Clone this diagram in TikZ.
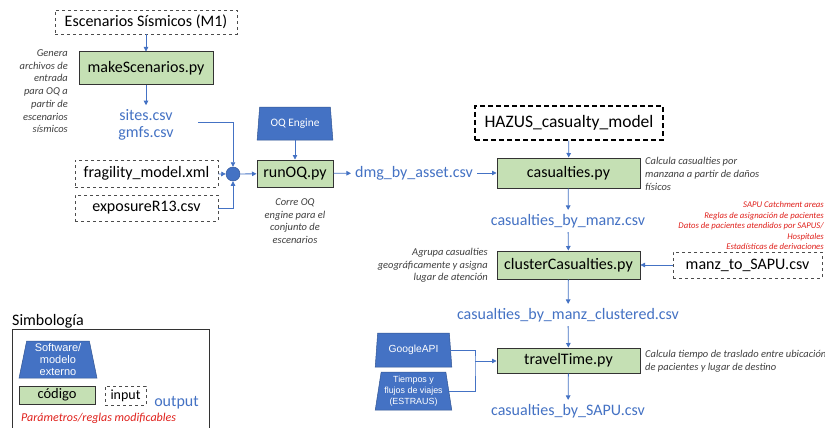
\documentclass[tikz,border=0pt]{standalone}
\usepackage{fontspec}
\setmainfont{Carlito}
\newfontfamily\arialf{Liberation Sans}
\usetikzlibrary{arrows.meta,shapes.geometric}
\definecolor{obl}{HTML}{4472C4}
\definecolor{codeg}{HTML}{C5E0B4}
\definecolor{notec}{HTML}{404040}
\definecolor{redc}{HTML}{E0201B}
\begin{document}
\begin{tikzpicture}[x=1pt,y=-1pt,
  code/.style={draw=black!80, line width=1pt, fill=codeg, inner sep=0pt, font=\fontsize{16}{18}\selectfont},
  inbox/.style={draw=black!70, dashed, line width=0.6pt, inner sep=0pt, font=\fontsize{16}{18}\selectfont},
  soft/.style={trapezium, trapezium left angle=80, trapezium right angle=80, trapezium stretches=true, fill=obl, draw=obl!75!black, line width=0.5pt, text=white, inner sep=0pt, align=center},
  outt/.style={text=obl, font=\fontsize{16}{18}\selectfont, inner sep=4pt},
  note/.style={font=\fontsize{10.5}{12.7}\selectfont\itshape, text=notec, inner sep=0pt},
  rednote/.style={font=\fontsize{8.7}{10.5}\selectfont\itshape, text=redc, align=right, inner sep=0pt},
  arr/.style={draw=obl, line width=0.8pt, -{Triangle[length=4.5pt,width=4.5pt]}},
  ln/.style={draw=obl, line width=0.8pt}]
\useasboundingbox[fill=white] (0,0) rectangle (825,428);

% left column
\node[inbox, minimum width=182pt, minimum height=24pt] (esc) at (146,22) {Escenarios Sísmicos (M1)};
\node[code, minimum width=134pt, minimum height=33pt] (mk) at (146,68.5) {makeScenarios.py};
\node[note, align=right, anchor=east] (gen) at (68,91.3) {Genera\\archivos de\\entrada\\para OQ a\\partir de\\escenarios\\sísmicos};
\node[outt] (sites) at (146,115) {sites.csv};
\node[outt] (gmfs) at (146,133) {gmfs.csv};
\coordinate (sg) at (198,122);
\node[circle, fill=obl, draw=obl!80!black, line width=0.5pt, minimum size=14pt, inner sep=0pt] (cj) at (233,174) {};
\node[inbox, minimum width=143pt, minimum height=27pt] (frag) at (146.5,173.5) {fragility\_model.xml};
\node[inbox, minimum width=143pt, minimum height=26pt] (expo) at (146.5,208) {exposureR13.csv};

\draw[arr] (esc) -- (mk);
\draw[arr] (mk) -- (sites);
\draw[arr] (sg) -| (cj);
\draw[arr] (frag) -- (cj);
\draw[arr] (expo.east) -| (cj);

% OQ
\node[soft, minimum width=76pt, minimum height=33pt, font=\fontsize{11.4}{13}\selectfont] (oq) at (295,123.5) {OQ Engine};
\node[code, minimum width=76pt, minimum height=27pt] (run) at (295,173.5) {runOQ.py};
\node[note, align=center] (runn) at (295,221) {Corre OQ\\engine para el\\conjunto de\\escenarios};
\node[outt] (dmg) at (414,173) {dmg\_by\_asset.csv};
\draw[arr] (cj) -- (run);
\draw[arr] (oq) -- (run);
\draw[arr] (run) -- (dmg);

% right column
\node[draw=black, dash pattern=on 5pt off 3pt, line width=1.2pt, inner sep=0pt, minimum width=188pt, minimum height=34pt, font=\fontsize{17.5}{20}\selectfont] (haz) at (569,123) {HAZUS\_casualty\_model};
\node[code, minimum width=143pt, minimum height=30pt] (cas) at (568.5,173) {casualties.py};
\node[note, align=left, anchor=west] (casn) at (645,174) {Calcula casualties por\\manzana a partir de daños\\físicos};
\node[outt] (cbm) at (568,221) {casualties\_by\_manz.csv};
\node[code, minimum width=143pt, minimum height=28pt] (clu) at (568.5,265) {clusterCasualties.py};
\node[note, align=right, anchor=east] (clun) at (488,265.5) {Agrupa casualties\\geográficamente y asigna\\lugar de atención};
\node[rednote, anchor=east] (rn) at (824,226) {SAPU Catchment areas\\Reglas de asignación de pacientes\\Datos de pacientes atendidos por SAPUS/\\Hospitales\\Estadísticas de derivaciones};
\node[inbox, minimum width=149pt, minimum height=26pt] (manz) at (747.5,265) {manz\_to\_SAPU.csv};
\node[outt] (cbc) at (568,315) {casualties\_by\_manz\_clustered.csv};
\node[code, minimum width=143pt, minimum height=25pt] (tt) at (568.5,360.5) {travelTime.py};
\node[note, align=left, anchor=west] (ttn) at (645,361.5) {Calcula tiempo de traslado entre ubicación\\de pacientes y lugar de destino};
\node[soft, minimum width=77pt, minimum height=34pt, font=\arialf\fontsize{10.3}{12}\selectfont] (goo) at (413.5,350) {GoogleAPI};
\node[soft, minimum width=77pt, minimum height=38pt, font=\arialf\fontsize{8.9}{11}\selectfont] (tie) at (413.5,391) {Tiempos y\\flujos de viajes\\(ESTRAUS)};
\node[outt] (sapu) at (568,411) {casualties\_by\_SAPU.csv};
\coordinate (jn) at (475,361);

\draw[arr] (dmg) -- (cas);
\draw[arr] (haz) -- (cas);
\draw[arr] (cas) -- (cbm);
\draw[arr] (cbm) -- (clu);
\draw[arr] (manz) -- (clu);
\draw[arr] (clu) -- (cbc);
\draw[arr] (cbc) -- (tt);
\draw[arr] (tt) -- (sapu);
\draw[ln] (goo.east) -| (jn) |- (tie.east);
\draw[arr] (jn) -- (tt.west |- jn);

% legend
\node[anchor=west, inner sep=0pt, font=\fontsize{16}{18}\selectfont] (simb) at (12,321) {Simbología};
\draw[black!80, line width=0.8pt] (12,430) -- (12,329) -- (209,329) -- (209,430);
\node[soft, minimum width=78pt, minimum height=37pt, font=\arialf\fontsize{11}{12}\selectfont] (lsoft) at (58,359.5) {Software/\\modelo\\externo};
\node[code, minimum width=76pt, minimum height=18pt, font=\fontsize{14.5}{16}\selectfont] (lcode) at (57,395) {código};
\node[inbox, minimum width=41pt, minimum height=19pt, font=\fontsize{14}{16}\selectfont] (lin) at (125.5,395.5) {input};
\node[text=obl, inner sep=0pt, font=\fontsize{16}{18}\selectfont] (lout) at (176.5,403) {output};
\node[anchor=west, inner sep=0pt, text=redc, font=\fontsize{12}{14}\selectfont\itshape] (lpar) at (21,418) {Parámetros/reglas modificables};
\end{tikzpicture}
\end{document}
